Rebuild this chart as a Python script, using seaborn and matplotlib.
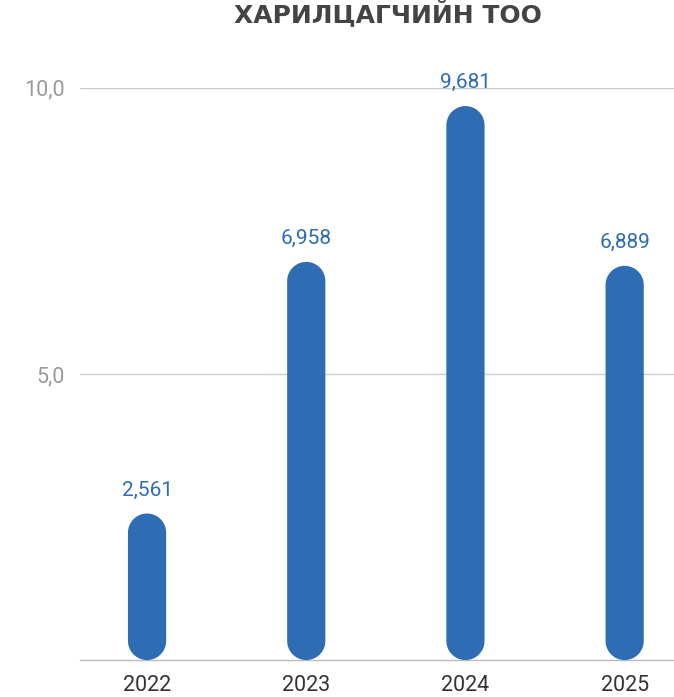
import matplotlib
matplotlib.use("Agg")
import matplotlib.pyplot as plt
import seaborn as sns
import pandas as pd
import numpy as np
from matplotlib.patches import Polygon

# Data
years = ["2022", "2023", "2024", "2025"]
values = [2.561, 6.958, 9.681, 6.889]
value_labels = ["2,561", "6,958", "9,681", "6,889"]
y_ticks = [5.0, 10.0]
y_tick_labels = ["5,0", "10,0"]

df = pd.DataFrame({"year": years, "value": values})

sns.set_style("white")
plt.rcParams["font.family"] = ["Roboto", "DejaVu Sans"]

bar_color = "#2E6DB4"

fig = plt.figure(figsize=(6.74, 6.97), dpi=100)
ax = fig.add_axes([0.119, 0.053, 0.881, 0.821])

sns.barplot(data=df, x="year", y="value", color=bar_color, width=0.24,
            saturation=1, ax=ax)

ax.set_xlim(-0.42, 3.31)
ax.set_ylim(0, 10)

# swap the plain bars for pill-shaped ones (round caps at both ends)
fig.canvas.draw()
bbox = ax.get_window_extent()
x0, x1 = ax.get_xlim()
y0, y1 = ax.get_ylim()
aspect = ((y1 - y0) / bbox.height) / ((x1 - x0) / bbox.width)
t = np.linspace(0, np.pi, 40)
for p in list(ax.patches):
    x, y, w, h = p.get_x(), p.get_y(), p.get_width(), p.get_height()
    p.remove()
    r = w / 2
    ry = r * aspect
    cx = x + r
    top = np.column_stack([cx + r * np.cos(t), y + h - ry + ry * np.sin(t)])
    bot = np.column_stack([cx - r * np.cos(t), y + ry - ry * np.sin(t)])
    ax.add_patch(Polygon(np.vstack([top, bot]), closed=True,
                         facecolor=bar_color, edgecolor="none",
                         zorder=3, clip_on=False))

# value labels
for i, (v, lab) in enumerate(zip(values, value_labels)):
    ax.annotate(lab, (i, v), xytext=(0, 17), textcoords="offset points",
                ha="center", va="center", color=bar_color, fontsize=15,
                annotation_clip=False)

ax.set_yticks(y_ticks)
ax.set_yticklabels(y_tick_labels)
ax.yaxis.grid(True, color="#cccccc", linewidth=1)
ax.set_axisbelow(True)
ax.tick_params(axis="y", length=0, pad=11, labelsize=15.5, labelcolor="#9a9a9a")
ax.tick_params(axis="x", length=0, pad=11, labelsize=15.5, labelcolor="#333333")
ax.set_xlabel("")
ax.set_ylabel("")
for s in ["top", "right", "left"]:
    ax.spines[s].set_visible(False)
ax.spines["bottom"].set_color("#bbbbbb")
ax.spines["bottom"].set_linewidth(1)

fig.text(0.576, 0.981, "ХАРИЛЦАГЧИЙН ТОО", ha="center", va="center",
         fontsize=18, fontweight="bold", color="#444444",
         family=["DejaVu Sans"])

fig.savefig("out.png", dpi=100)
